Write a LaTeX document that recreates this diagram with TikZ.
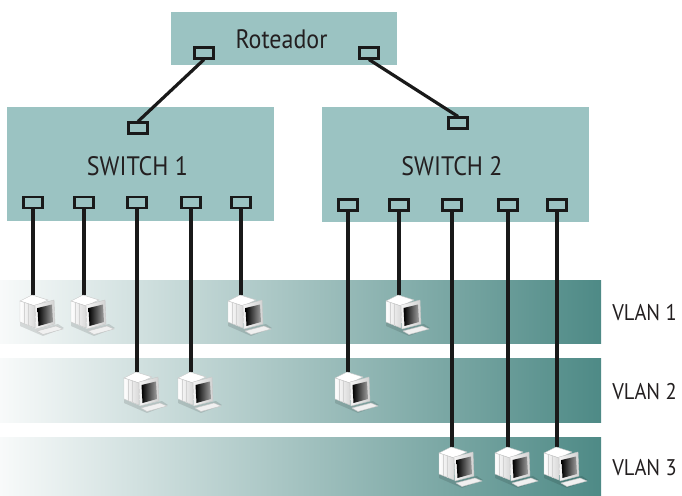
\documentclass[tikz,border=0pt]{standalone}
\usepackage{fontspec}
\setmainfont{PT Sans}[FakeStretch=0.9]
\usetikzlibrary{calc,positioning}

\definecolor{caixa}{HTML}{9BC3C2}
\definecolor{vlanesc}{HTML}{4E8A86}
\definecolor{vlanclaro}{HTML}{F8FAFA}
\definecolor{texto}{HTML}{231F20}

\tikzset{
	caixa/.style={fill=caixa, draw=none, inner sep=0pt},
	porta/.style={draw=black!90, fill=caixa, line width=1.8pt, minimum width=14pt, minimum height=8pt, inner sep=0pt},
	cabo/.style={line width=2.4pt, black!90},
	faixa/.style={left color=vlanclaro, right color=vlanesc, draw=none, inner sep=0pt},
	rotulo/.style={text=texto, font=\fontsize{20}{24}\selectfont, inner sep=0pt, anchor=base},
	vlan/.style={text=texto, font=\fontsize{17}{20}\selectfont, inner sep=0pt, anchor=west},
	pc/.pic={
		% sombra e teclado
		\fill[black, opacity=.12] (-13,27) -- (3,34) -- (25,29) -- (31,33) -- (10,41) -- (-13,31) -- cycle;
		\fill[gray!12, draw=gray!45, line width=.3pt] (4,36) -- (23,31) -- (30,34) -- (10,39.5) -- cycle;
		% tubo
		\fill[white, draw=gray!45, line width=.3pt] (-13,6) -- (-1,0) -- (15,5) -- (2,11) -- cycle;
		\shade[left color=white, right color=gray!30, draw=gray!45, line width=.3pt] (-13,6) -- (2,11) -- (2,33) -- (-13,27) -- cycle;
		\draw[gray!35, line width=.4pt] (-9,8) -- (-9,29) (-5,9) -- (-5,30.5);
		% tela
		\shade[left color=gray!8, right color=gray!35, draw=gray!45, line width=.3pt] (2,10) -- (21,5) -- (22,29) -- (3,34) -- cycle;
		\shade[left color=black, right color=gray!75] (4.5,13) -- (19,9.5) -- (20,27) -- (5.5,31) -- cycle;
	}
}

\begin{document}
\begin{tikzpicture}[x=0.75pt, y=-0.75pt]
	\useasboundingbox (0,0) rectangle (682,496);

	% faixas das VLANs
	\node[faixa, minimum width=450.75pt, minimum height=47.25pt] (vlan1) at (300.5,311.5) {};
	\node[faixa, minimum width=450.75pt, minimum height=48pt] (vlan2) at (300.5,390) {};
	\node[faixa, minimum width=450.75pt, minimum height=44.25pt] (vlan3) at (300.5,466.5) {};
	\node[vlan] (l1) at (612,313) {VLAN 1};
	\node[vlan] (l2) at (612,391.5) {VLAN 2};
	\node[vlan] (l3) at (612,468) {VLAN 3};

	% roteador e switches
	\node[caixa, minimum width=169.5pt, minimum height=39.75pt] (rot) at (284,38.5) {};
	\node[caixa, minimum width=200.25pt, minimum height=85.5pt] (sw1) at (140.5,164) {};
	\node[caixa, minimum width=200.25pt, minimum height=86.25pt] (sw2) at (455.5,164.5) {};
	\node[rotulo] (trot) at (281.5,48) {Roteador};
	\node[rotulo] (tsw1) at (137.5,175) {SWITCH 1};
	\node[rotulo] (tsw2) at (452,175) {SWITCH 2};

	\node[porta] (r1) at (204,53) {};
	\node[porta] (r2) at (369,53) {};
	\node[porta] (s1) at (138,128) {};
	\node[porta] (s2) at (458,123) {};
	\draw[cabo] (r1.south) -- (s1.north);
	\draw[cabo] (r2.south) -- (s2.north);

	% portas de baixo e computadores
	\foreach \x/\y [count=\i] in {33/295, 84/295, 137/372, 191/372, 241/295} {
		\node[porta] (a\i) at (\x,202.5) {};
		\coordinate (pa\i) at (\x,\y);
		\draw[cabo] (a\i.south) -- (pa\i);
		\pic at (pa\i) {pc};
	}
	\foreach \x/\y [count=\i] in {348/372, 399/295, 452/447, 508/447, 557/447} {
		\node[porta] (b\i) at (\x,205) {};
		\coordinate (pb\i) at (\x,\y);
		\draw[cabo] (b\i.south) -- (pb\i);
		\pic at (pb\i) {pc};
	}
\end{tikzpicture}
\end{document}
